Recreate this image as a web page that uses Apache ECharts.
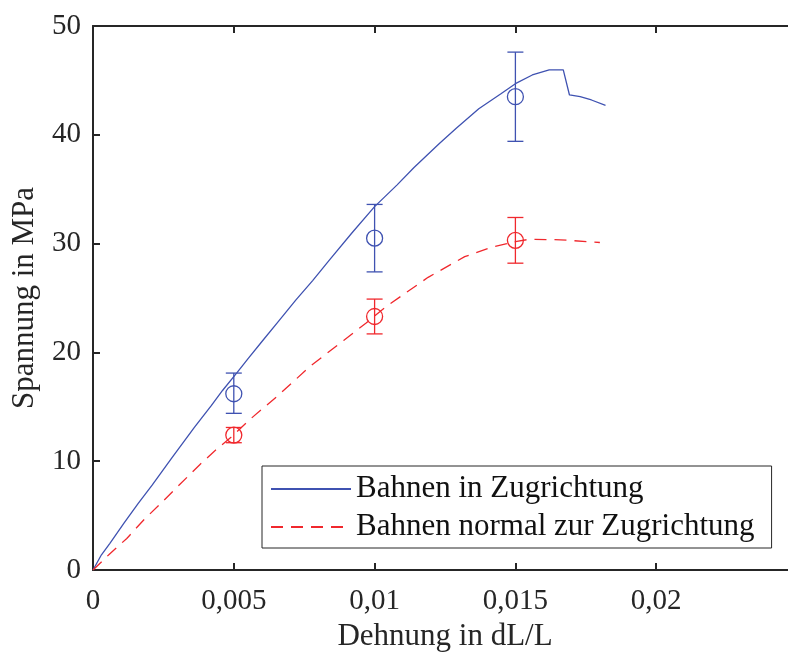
<!DOCTYPE html>
<html>
<head>
<meta charset="utf-8">
<script src="https://cdn.jsdelivr.net/npm/echarts@6/dist/echarts.min.js"></script>
<style>html,body{margin:0;padding:0;background:#fff}#c{width:788px;height:655px}</style>
</head>
<body>
<div id="c"></div>
<script>
// Curve data (strain dL/L, stress MPa)
var blueCurve = [
  [0,0],[0.0003,1.4],[0.0006,2.45],[0.0011,4.3],[0.0016,6.1],[0.0021,7.8],[0.0028,10.3],
  [0.0036,13.1],[0.0042,15.1],[0.0046,16.5],[0.0051,18.1],[0.0055,19.4],[0.0060,21.0],
  [0.0066,22.9],[0.0072,24.8],[0.0078,26.6],[0.0084,28.5],[0.0092,31.0],[0.0100,33.4],
  [0.0108,35.4],[0.0114,37.0],[0.0123,39.2],[0.0129,40.6],[0.0137,42.4],[0.0145,43.8],
  [0.0150,44.7],[0.0156,45.5],[0.0162,45.96],[0.0167,45.96],[0.01692,43.66],[0.0173,43.5],
  [0.0177,43.2],[0.0182,42.7]
];
var redCurve = [
  [0,0],[0.0006,1.5],[0.0012,2.9],[0.0018,4.6],[0.0024,6.1],[0.0029,7.4],[0.0038,9.7],
  [0.0043,10.9],[0.0049,12.2],[0.0056,13.9],[0.0066,16.1],[0.0077,18.7],[0.0089,21.1],
  [0.0097,22.7],[0.0104,24.2],[0.0119,26.9],[0.0132,28.8],[0.0142,29.7],[0.01505,30.2],
  [0.0155,30.4],[0.0166,30.35],[0.0180,30.1]
];
// Mean values with error bars: [strain, mean, lower, upper]
var blueErr = [[0.005,16.2,14.4,18.1],[0.01,30.5,27.4,33.6],[0.015,43.5,39.4,47.6]];
var redErr  = [[0.005,12.4,11.7,13.1],[0.01,23.3,21.7,24.9],[0.015,30.3,28.2,32.4]];
var xTicks = [0, 0.005, 0.01, 0.015, 0.02];
var seriesNames = ['Bahnen in Zugrichtung', 'Bahnen normal zur Zugrichtung'];

var BLUE = '#3f52b1', RED = '#f0282d', AX = '#262626';
var FONT = 'Liberation Serif';

function fmtX(v) {
  for (var i = 0; i < xTicks.length; i++) {
    if (Math.abs(v - xTicks[i]) < 1e-9) return String(xTicks[i]).replace('.', ',');
  }
  return '';
}
function errRender(color) {
  return function (params, api) {
    var x = api.value(0);
    var c = api.coord([x, api.value(1)]);
    var lo = api.coord([x, api.value(2)]);
    var hi = api.coord([x, api.value(3)]);
    var w = 8, r = 8;
    var st = {stroke: color, lineWidth: 1.3, fill: null};
    return {type: 'group', children: [
      {type: 'line', shape: {x1: lo[0], y1: lo[1], x2: hi[0], y2: hi[1]}, style: st},
      {type: 'line', shape: {x1: lo[0]-w, y1: lo[1], x2: lo[0]+w, y2: lo[1]}, style: st},
      {type: 'line', shape: {x1: hi[0]-w, y1: hi[1], x2: hi[0]+w, y2: hi[1]}, style: st},
      {type: 'circle', shape: {cx: c[0], cy: c[1], r: r}, style: {stroke: color, lineWidth: 1.3, fill: 'transparent'}}
    ]};
  };
}

var chart = echarts.init(document.getElementById('c'), null, {renderer: 'canvas'});
chart.setOption({
  animation: false,
  backgroundColor: '#fff',
  textStyle: {fontFamily: FONT},
  grid: {left: 93, top: 26, bottom: 85, width: 704, containLabel: false, outerBoundsMode: 'none'},
  xAxis: [{
    type: 'value', min: 0, max: 0.025, interval: 0.005, position: 'bottom',
    name: 'Dehnung in dL/L', nameLocation: 'middle', nameGap: 51,
    nameTextStyle: {fontFamily: FONT, fontSize: 31, color: AX},
    axisLine: {show: true, onZero: false, lineStyle: {color: AX, width: 2}},
    axisTick: {show: true, inside: true, length: 7, lineStyle: {color: AX, width: 2}},
    axisLabel: {formatter: fmtX, fontFamily: FONT, fontSize: 29, color: AX, margin: 17},
    splitLine: {show: false}
  }, {
    type: 'value', min: 0, max: 0.025, interval: 0.005, position: 'top',
    axisLine: {show: true, onZero: false, lineStyle: {color: AX, width: 2}},
    axisTick: {show: true, inside: true, length: 7, lineStyle: {color: AX, width: 2}},
    axisLabel: {show: false}, splitLine: {show: false}
  }],
  yAxis: [{
    type: 'value', min: 0, max: 50, interval: 10,
    name: 'Spannung in MPa', nameLocation: 'middle', nameGap: 53, nameRotate: 90,
    nameTextStyle: {fontFamily: FONT, fontSize: 31, color: AX},
    axisLine: {show: true, onZero: false, lineStyle: {color: AX, width: 2}},
    axisTick: {show: true, inside: true, length: 7, lineStyle: {color: AX, width: 2}},
    axisLabel: {fontFamily: FONT, fontSize: 29, color: AX, margin: 12},
    splitLine: {show: false}
  }],
  legend: {
    data: seriesNames, orient: 'vertical', left: 262, top: 466,
    padding: [6, 17, 4, 8], itemGap: 4, itemWidth: 80, itemHeight: 14,
    borderColor: AX, borderWidth: 1, backgroundColor: '#fff',
    itemStyle: {opacity: 0},
    textStyle: {fontFamily: FONT, fontSize: 31, color: '#111', lineHeight: 34}
  },
  series: [
    {name: seriesNames[0], type: 'line', data: blueCurve, symbol: 'none', showSymbol: false,
     lineStyle: {color: BLUE, width: 1.3}, itemStyle: {color: BLUE}, z: 3},
    {name: seriesNames[1], type: 'line', data: redCurve, symbol: 'none', showSymbol: false,
     lineStyle: {color: RED, width: 1.3, type: [12, 8]}, itemStyle: {color: RED}, z: 3},
    {name: 'errBlue', type: 'custom', data: blueErr, renderItem: errRender(BLUE), encode: {x: 0, y: [1,2,3]}, z: 4},
    {name: 'errRed', type: 'custom', data: redErr, renderItem: errRender(RED), encode: {x: 0, y: [1,2,3]}, z: 4}
  ]
});
</script>
</body>
</html>
